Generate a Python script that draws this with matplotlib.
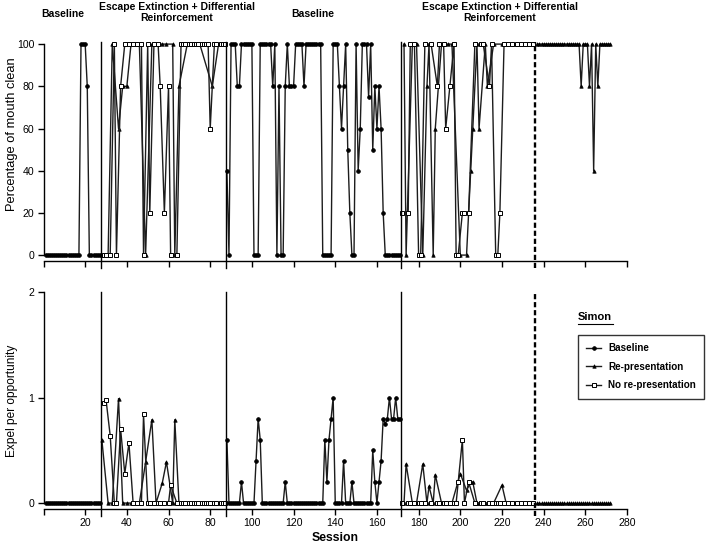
import matplotlib.pyplot as plt
from matplotlib.lines import Line2D
from matplotlib.transforms import blended_transform_factory

plt.rcParams['font.family'] = ['Liberation Sans', 'DejaVu Sans']

# ---------------- data ----------------
# phase change lines (session numbers)
phase_lines = [27.5, 87.5, 171.5]
followup_line = 236

# phase 1: baseline
bl1_sess = list(range(1, 28))
bl1_clean = [0, 0, 0, 0, 0, 0, 0, 0, 0, 0, 0, 0, 0, 0, 0, 0, 0,
             100, 100, 100, 80, 0, 0, 0, 0, 0, 0]
bl1_expel = [0, 0, 0, 0, 0, 0, 0, 0, 0, 0, 0, 0, 0, 0, 0, 0, 0,
             0, 0, 0, 0, 0, 0, 0, 0, 0, 0]

# phase 2: escape extinction + DR, re-presentation sessions
rp2_sess = [28, 31, 33, 36, 38, 40, 42, 44, 46, 49,
            52, 54, 57, 59, 62, 63, 65, 69, 75, 81, 84]
rp2_clean = [0, 0, 100, 60, 80, 80, 100, 100, 100, 0,
             100, 100, 100, 100, 100, 0, 80, 100, 100, 80, 100]
rp2_expel = [0.6, 0, 0, 0.99, 0, 0, 0, 0, 0, 0.39,
             0.79, 0, 0.19, 0.39, 0, 0.79, 0, 0, 0, 0, 0]

# phase 2: no re-presentation sessions
nr2_sess = [29, 30, 32, 34, 35, 37, 39, 41, 43, 45,
            47, 48, 50, 51, 53, 55, 56, 58, 60, 61,
            64, 66, 67, 68, 70, 71, 72, 73, 74, 76,
            77, 78, 79, 80, 82, 83, 85, 86, 87]
nr2_clean = [0, 0, 0, 100, 0, 80, 100, 100, 100, 100,
             100, 0, 100, 20, 100, 100, 80, 20, 80, 0,
             0, 100, 100, 100, 100, 100, 100, 100, 100, 100,
             100, 100, 100, 60, 100, 100, 100, 100, 100]
nr2_expel = [0.95, 0.98, 0.64, 0, 0, 0.70, 0.28, 0.57, 0, 0,
             0, 0.84, 0, 0, 0, 0, 0, 0, 0, 0.17,
             0, 0, 0, 0, 0, 0, 0, 0, 0, 0,
             0, 0, 0, 0, 0, 0, 0, 0, 0]

# phase 3: baseline
bl3_sess = list(range(88, 172))
bl3_clean = [40, 0, 100, 100, 100, 80, 80, 100, 100, 100,
             100, 100, 100, 0, 0, 0, 100, 100, 100, 100,
             100, 100, 80, 100, 0, 80, 0, 0, 80, 100,
             80, 80, 80, 100, 100, 100, 100, 80, 100, 100,
             100, 100, 100, 100, 100, 100, 0, 0, 0, 0,
             0, 100, 100, 100, 80, 60, 80, 100, 50, 20,
             0, 0, 100, 40, 60, 100, 100, 100, 75, 100,
             50, 80, 60, 80, 60, 20, 0, 0, 0, 0,
             0, 0, 0, 0]
bl3_expel = [0.6, 0, 0, 0, 0, 0, 0, 0.2, 0, 0,
             0, 0, 0, 0, 0.4, 0.8, 0.6, 0, 0, 0,
             0, 0, 0, 0, 0, 0, 0, 0, 0.2, 0,
             0, 0, 0, 0, 0, 0, 0, 0, 0, 0,
             0, 0, 0, 0, 0, 0, 0, 0.6, 0.2, 0.6,
             0.8, 1.0, 0, 0, 0, 0, 0.4, 0, 0, 0,
             0.2, 0, 0, 0, 0, 0, 0, 0, 0, 0,
             0.5, 0.2, 0, 0.2, 0.4, 0.8, 0.75, 0.8, 1.0, 0.8,
             0.8, 1.0, 0.8, 0.8]

# phase 4: escape extinction + DR, re-presentation sessions
rp4_sess = [173, 174, 177, 179, 182, 184, 185, 187, 188, 191,
            194, 196, 200, 203, 205, 206, 208, 209, 212, 213,
            216, 220, 222, 224, 226, 228, 230, 232, 234]
rp4_clean = [100, 0, 100, 100, 0, 80, 100, 0, 60, 100,
             100, 100, 0, 0, 40, 60, 100, 60, 100, 80,
             100, 100, 100, 100, 100, 100, 100, 100, 100]
rp4_expel = [0, 0.37, 0, 0, 0.37, 0, 0.16, 0, 0.27, 0,
             0, 0, 0.28, 0.12, 0.2, 0.2, 0, 0, 0, 0,
             0, 0.17, 0, 0, 0, 0, 0, 0, 0]

# phase 4: no re-presentation sessions
nr4_sess = [172, 175, 176, 178, 180, 181, 183, 186, 189, 190,
            192, 193, 195, 197, 198, 199, 201, 202, 204, 207,
            210, 211, 214, 215, 217, 218, 219, 221, 223, 225,
            227, 229, 231, 233, 235]
nr4_clean = [20, 20, 100, 100, 0, 0, 100, 100, 80, 100,
             100, 60, 80, 100, 0, 0, 20, 20, 20, 100,
             100, 100, 80, 100, 0, 0, 20, 100, 100, 100,
             100, 100, 100, 100, 100]
nr4_expel = [0, 0, 0, 0, 0, 0, 0, 0, 0, 0,
             0, 0, 0, 0, 0, 0.2, 0.6, 0, 0.2, 0,
             0, 0, 0, 0, 0, 0, 0, 0, 0, 0,
             0, 0, 0, 0, 0]

# follow-up after dashed line
fu_sess = list(range(237, 273))
fu_clean = [100, 100, 100, 100, 100, 100, 100, 100, 100, 100,
            100, 100, 100, 100, 100, 100, 100, 100, 100, 100,
            100, 80, 100, 100, 100, 80, 100, 40, 100, 80,
            100, 100, 100, 100, 100, 100]
fu_expel = [0, 0, 0, 0, 0, 0, 0, 0, 0, 0,
            0, 0, 0, 0, 0, 0, 0, 0, 0, 0,
            0, 0, 0, 0, 0, 0, 0, 0, 0, 0,
            0, 0, 0, 0, 0, 0]

phase_titles = ['Baseline', 'Escape Extinction + Differential\nReinforcement',
                'Baseline', 'Escape Extinction + Differential\nReinforcement']
phase_title_x = [9, 64, 129, 219]

# ---------------- styles ----------------
LINE = '#1c1c1c'
styles = {
    'Baseline': dict(marker='o', ms=2.7, mfc='black', mec='black', mew=0.5),
    'Re-presentation': dict(marker='^', ms=2.5, mfc='black', mec='black', mew=0.5),
    'No re-presentation': dict(marker='s', ms=3.0, mfc='white', mec='black', mew=0.7),
}


def draw(ax, x, y, kind):
    ax.plot(x, y, color=LINE, lw=1.0, clip_on=False, **styles[kind])


W, H = 709, 546
fig = plt.figure(figsize=(W / 100, H / 100), dpi=100)
left = 43.5 / W
width = (627 - 43.5) / W
ax1 = fig.add_axes([left, (H - 261) / H, width, 219 / H])
ax2 = fig.add_axes([left, (H - 509) / H, width, 217 / H])

panels = [
    (ax1, bl1_clean, rp2_clean, nr2_clean, bl3_clean, rp4_clean, nr4_clean, fu_clean),
    (ax2, bl1_expel, rp2_expel, nr2_expel, bl3_expel, rp4_expel, nr4_expel, fu_expel),
]
for ax, b1, r2, n2, b3, r4, n4, fu in panels:
    draw(ax, bl1_sess, b1, 'Baseline')
    draw(ax, rp2_sess, r2, 'Re-presentation')
    draw(ax, nr2_sess, n2, 'No re-presentation')
    draw(ax, bl3_sess, b3, 'Baseline')
    draw(ax, rp4_sess, r4, 'Re-presentation')
    draw(ax, nr4_sess, n4, 'No re-presentation')
    draw(ax, fu_sess, fu, 'Re-presentation')

    for x in phase_lines:
        ax.axvline(x, ymin=-0.03, ymax=1, color='black', lw=1.0, clip_on=False)
    ax.axvline(followup_line, ymin=-0.03, ymax=1, color='black', lw=1.7,
               ls=(0, (2.2, 1.2)), clip_on=False)

    ax.set_xlim(0, 280)
    ax.set_xticks(range(0, 281, 20))
    for s in ['top', 'right']:
        ax.spines[s].set_visible(False)
    for s in ['left', 'bottom']:
        ax.spines[s].set_linewidth(1.0)
    ax.spines['bottom'].set_bounds(0, 280)
    ax.tick_params(direction='out', length=4.5, width=1.0, labelsize=7.6, pad=2)

ax1.set_ylim(-2.8, 101)
ax1.set_yticks(range(0, 101, 20))
ax1.spines['left'].set_bounds(0, 100)
ax1.set_xticklabels([])
ax1.set_ylabel('Percentage of mouth clean', fontsize=9.3)
ax1.yaxis.set_label_coords(-0.043, 0.58)

ax2.set_ylim(-0.056, 2.0)
ax2.set_yticks([0, 1, 2])
ax2.spines['left'].set_bounds(0, 2)
ax2.set_xticklabels([''] + [str(v) for v in range(20, 281, 20)])
ax2.set_ylabel('Expel per opportunity', fontsize=8.6)
ax2.yaxis.set_label_coords(-0.044, 0.5)
ax2.set_xlabel('Session', fontsize=8.8, fontweight='bold', labelpad=3)

# phase titles
tr = blended_transform_factory(ax1.transData, fig.transFigure)
for title, x in zip(phase_titles, phase_title_x):
    y = 1 - 14 / H if '\n' not in title else 1 - 12.5 / H
    ax1.text(x, y, title, transform=tr, ha='center', va='center',
             fontsize=7.5, fontweight='bold', linespacing=1.1)

# legend
handles = [Line2D([], [], color=LINE, lw=1.0, **styles[k]) for k in styles]
leg = ax2.legend(handles, list(styles), loc='upper left',
                 bbox_to_anchor=(578 / W, 1 - 335 / H), bbox_transform=fig.transFigure,
                 borderaxespad=0, fontsize=7.1, frameon=True, fancybox=False,
                 edgecolor='black', handlelength=1.5, handletextpad=0.7,
                 borderpad=0.85, labelspacing=0.85)
leg.get_frame().set_linewidth(1.0)
for t in leg.get_texts():
    t.set_fontweight('bold')

fig.text(578 / W, 1 - 317 / H, 'Simon', fontsize=8, fontweight='bold', va='center')
fig.add_artist(Line2D([578 / W, 613 / W], [1 - 324 / H, 1 - 324 / H],
                      color='black', lw=0.8, transform=fig.transFigure))

fig.savefig('out.png', dpi=100)
